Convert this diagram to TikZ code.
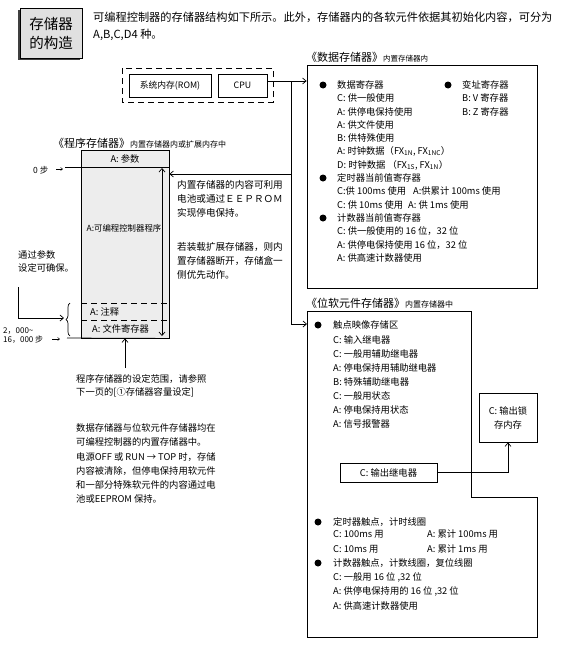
\documentclass[tikz,border=0pt]{standalone}
\usepackage{fontspec}
\setmainfont{Noto Sans CJK SC}
\usetikzlibrary{arrows.meta,decorations.pathreplacing}
\begin{document}
\begin{tikzpicture}[x=1pt,y=-1pt,
  txt/.style={anchor=west,inner sep=0pt,font=\fontsize{9.3}{11}\selectfont},
  small/.style={anchor=west,inner sep=0pt,font=\fontsize{8.3}{10}\selectfont},
  bul/.style={circle,fill=black,inner sep=0pt,minimum size=7pt},
  box/.style={draw,line width=0.8pt,inner sep=0pt},
  arr/.style={-{Straight Barb[length=3.5pt,width=6pt]},line width=0.7pt},
  ln/.style={line width=0.7pt},
  dash1/.style={dash pattern=on 6pt off 4pt,line width=1pt}
]
\useasboundingbox (0,0) rectangle (581,645);

% title box
\fill[black!75] (18,10) rectangle (80,60);
\node[box,fill=black!12,minimum width=62pt,minimum height=50pt,align=left,
  font=\fontsize{14.5}{19}\selectfont] (title) at (51,33) {存储器\\的构造};

% header
\node[anchor=west,inner sep=0pt,font=\fontsize{11.2}{13}\selectfont] (hd1) at (93,17)
  {可编程控制器的存储器结构如下所示。此外，存储器内的各软元件依据其初始化内容，可分为};
\node[anchor=west,inner sep=0pt,font=\fontsize{11.2}{13}\selectfont] (hd2) at (93,35) {A,B,C,D4 种。};

% PLC
\draw[dash1] (122,68) rectangle (273,102);
\node[box,minimum width=82pt,minimum height=23pt,font=\fontsize{8.8}{10}\selectfont] (rom) at (170,85.5) {系统内存(ROM)};
\node[box,minimum width=49pt,minimum height=23pt,font=\fontsize{8.8}{10}\selectfont] (cpu) at (242.5,85.5) {CPU};

% data memory box
\node[anchor=west,inner sep=0pt] (dtitle) at (306,57)
  {{\fontsize{11}{13}\selectfont《数据存储器》}{\fontsize{7.5}{9}\selectfont 内置存储器内}};
\node[box,minimum width=230pt,minimum height=223pt] (dbox) at (422,176.5) {};

\node[bul] (db1) at (323,85) {};
\node[txt] (d1) at (337,85) {数据寄存器};
\node[txt] (d2) at (337,98) {C: 供一般使用};
\node[txt] (d3) at (337,112) {A: 供停电保持使用};
\node[txt] (d4) at (337,125) {A: 供文件使用};
\node[txt] (d5) at (337,138) {B: 供特殊使用};
\node[txt] (d6) at (337,151) {A: 时钟数据（FX\textsubscript{1N}, FX\textsubscript{1NC}）};
\node[txt] (d7) at (337,165) {D: 时钟数据 （FX\textsubscript{1S}, FX\textsubscript{1N}）};
\node[bul] (db2) at (323,178) {};
\node[txt] (d8) at (337,178) {定时器当前值寄存器};
\node[txt] (d9) at (337,191) {C:供 100ms 使用};
\node[txt] (d9b) at (413,191) {A:供累计 100ms 使用};
\node[txt] (d10) at (337,205) {C: 供 10ms 使用};
\node[txt] (d10b) at (408,205) {A: 供 1ms 使用};
\node[bul] (db3) at (323,218) {};
\node[txt] (d11) at (337,218) {计数器当前值寄存器};
\node[txt] (d12) at (337,231) {C: 供一般使用的 16 位，32 位};
\node[txt] (d13) at (337,245) {A: 供停电保持使用 16 位，32 位};
\node[txt] (d14) at (337,258) {A: 供高速计数器使用};
\node[bul] (db4) at (448,85) {};
\node[txt] (v1) at (462,85) {变址寄存器};
\node[txt] (v2) at (462,98) {B: V 寄存器};
\node[txt] (v3) at (462,112) {B: Z 寄存器};

% program memory
\node[anchor=west,inner sep=0pt] (ptitle) at (53,143)
  {{\fontsize{11}{13}\selectfont《程序存储器》}{\fontsize{8}{10}\selectfont 内置存储器内或扩展内存中}};
\node[box,fill=black!7,minimum width=88pt,minimum height=188pt] (pbox) at (125,244) {};
\coordinate (p0L) at (65,167);
\coordinate (p0R) at (169,167);
\coordinate (pbL) at (67,338);
\draw[ln] (p0L) -- (p0R);
\draw[ln] (pbL) -- (pbox.south east);
\draw[dash1,line width=0.8pt] (81,303) -- (169,303);
\draw[dash1,line width=0.8pt] (81,320) -- (169,320);
\node[txt,anchor=center] (pa) at (125,159) {A: 参数};
\node[anchor=center,inner sep=0pt,font=\fontsize{8.4}{10}\selectfont] (pprog) at (124,228) {A:可编程控制器程序};
\node[txt] (pc) at (90,312) {A: 注释};
\node[txt] (pf) at (92,329) {A: 文件寄存器};
\coordinate (pvT) at (162,168);
\coordinate (pvB) at (162,336);
\draw[{Straight Barb[length=3.5pt,width=6pt]}-{Straight Barb[length=3.5pt,width=6pt]},line width=0.7pt] (pvT) -- (pvB);

\node[anchor=west,inner sep=0pt,font=\fontsize{8.5}{10}\selectfont] (step0) at (33,170) {0 步};
\coordinate (s0a) at (56,169);
\coordinate (s0b) at (63,169);
\draw[-{Straight Barb[length=2pt,width=3pt]},line width=0.5pt] (s0a) -- (s0b);
\node[anchor=north west,inner sep=0pt,align=left,font=\fontsize{8}{9.2}\selectfont] (stepN) at (3,327) {2，000\textasciitilde\\16，000 步};
\coordinate (sNa) at (52,339);
\coordinate (sNb) at (60,339);
\draw[-{Straight Barb[length=2pt,width=3pt]},line width=0.5pt] (sNa) -- (sNb);

\coordinate (brT) at (70,303);
\coordinate (brB) at (70,336);
\draw[decorate,decoration={brace,amplitude=4pt},line width=0.7pt] (brB) -- (brT);

\node[txt] (param1) at (18,255) {通过参数};
\node[txt] (param2) at (18,268) {设定可确保。};
\coordinate (parT) at (18,287);
\coordinate (parE) at (64,318);
\draw[arr] (parT) |- (parE);

\node[txt,font=\fontsize{9.6}{11}\selectfont] (r1) at (177,185) {内置存储器的内容可利用};
\node[txt,font=\fontsize{9.6}{11}\selectfont] (r2) at (177,199) {电池或通过ＥＥＰＲＯＭ};
\node[txt,font=\fontsize{9.6}{11}\selectfont] (r3) at (177,213) {实现停电保持。};
\node[txt,font=\fontsize{9.6}{11}\selectfont] (r4) at (177,247) {若装载扩展存储器，则内};
\node[txt,font=\fontsize{9.6}{11}\selectfont] (r5) at (177,261) {置存储器断开，存储盒一};
\node[txt,font=\fontsize{9.6}{11}\selectfont] (r6) at (177,275) {侧优先动作。};

\node[txt] (n1) at (76,379) {程序存储器的设定范围，请参照};
\node[txt] (n2) at (76,392) {下一页的[①存储器容量设定]};
\coordinate (upB) at (125,368);
\draw[arr] (upB) -- (pbox.south);

\node[txt] (q1) at (76,428) {数据存储器与位软元件存储器均在};
\node[txt] (q2) at (76,442) {可编程控制器的内置存储器中。};
\node[txt] (q3) at (76,457) {电源OFF 或 RUN → TOP 时，存储};
\node[txt] (q4) at (76,471) {内容被清除，但停电保持用软元件};
\node[txt] (q5) at (76,485) {和一部分特殊软元件的内容通过电};
\node[txt] (q6) at (76,499) {池或EEPROM 保持。};

% bit device memory
\node[anchor=west,inner sep=0pt] (btitle) at (306,303)
  {{\fontsize{11}{13}\selectfont《位软元件存储器》}{\fontsize{8}{10}\selectfont 内置存储器中}};
\draw[line width=0.8pt] (307,311) -- (471,311) -- (471,497) -- (537,497) -- (537,637) -- (307,637) -- cycle;
\coordinate (bitW) at (307,324);

\node[bul] (bb1) at (318,325) {};
\node[txt] (b1) at (333,325) {触点映像存储区};
\node[txt] (b2) at (333,340) {C: 输入继电器};
\node[txt] (b3) at (333,354) {C: 一般用辅助继电器};
\node[txt] (b4) at (333,368) {A: 停电保持用辅助继电器};
\node[txt] (b5) at (333,382) {B: 特殊辅助继电器};
\node[txt] (b6) at (333,396) {C: 一般用状态};
\node[txt] (b7) at (333,410) {A: 停电保持用状态};
\node[txt] (b8) at (333,424) {A: 信号报警器};

\node[box,minimum width=97pt,minimum height=19pt,font=\fontsize{9.3}{11}\selectfont] (outrel) at (388.5,472.5) {C: 输出继电器};
\node[box,minimum width=58pt,minimum height=49pt,align=center,font=\fontsize{9.3}{14}\selectfont] (latch) at (508,417.5) {C: 输出锁\\存内存};
\draw[arr] (outrel.east) -| (latch.south);

\node[bul] (bb2) at (318,522) {};
\node[txt] (t1) at (333,522) {定时器触点，计时线圈};
\node[txt] (t2) at (333,534) {C: 100ms 用};
\node[txt] (t2b) at (427,534) {A: 累计 100ms 用};
\node[txt] (t3) at (333,549) {C: 10ms 用};
\node[txt] (t3b) at (427,549) {A: 累计 1ms 用};
\node[bul] (bb3) at (318,563) {};
\node[txt] (c1) at (333,563) {计数器触点，计数线圈，复位线圈};
\node[txt] (c2) at (333,577) {C: 一般用 16 位 ,32 位};
\node[txt] (c3) at (333,591) {A: 供停电保持用的 16 位 ,32 位};
\node[txt] (c4) at (333,606) {A: 供高速计数器使用};

% bus connectors
\coordinate (busT) at (291,81);
\coordinate (busM) at (291,174);
\coordinate (busB) at (291,324);
\draw[ln] (cpu.east |- busT) -- (busT);
\draw[arr] (busT) -- (dbox.west |- busT);
\draw[ln] (busT) -- (busB);
\draw[arr] (busB) -- (bitW);
\draw[arr] (busM) -- (pbox.east |- busM);
\end{tikzpicture}
\end{document}
